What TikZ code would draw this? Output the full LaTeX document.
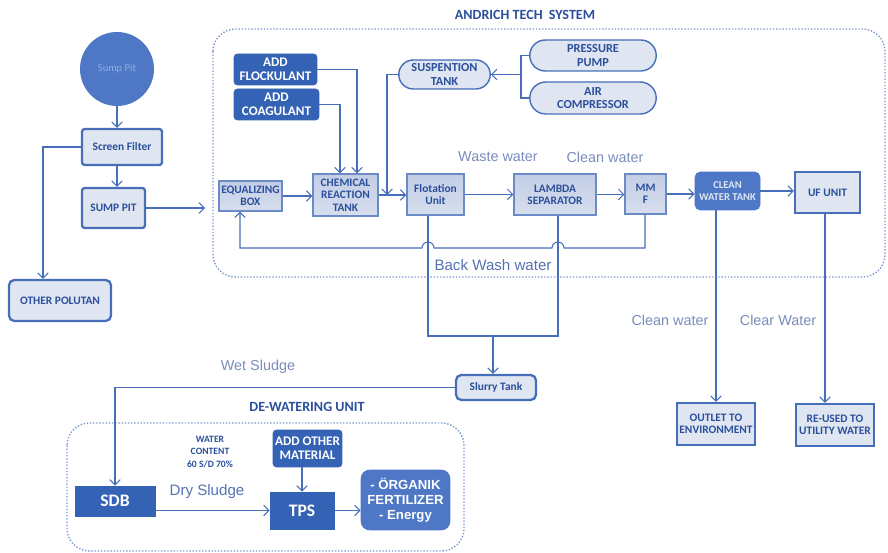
\documentclass[tikz,border=0pt]{standalone}
\usepackage{fontspec}
\setmainfont{Liberation Sans}
\newfontfamily\boxfont{Carlito}
\usetikzlibrary{shapes.misc,arrows.meta}

\definecolor{bord}{HTML}{466EB9}
\definecolor{darkfill}{HTML}{3462B4}
\definecolor{midfill}{HTML}{4E78C6}
\definecolor{lightfill}{HTML}{DFE5F1}
\definecolor{unitfill}{HTML}{C3CEE6}
\definecolor{boxtext}{HTML}{2B4F9C}
\definecolor{flowlabel}{HTML}{7A8CBB}

\tikzset{
    flow/.style={draw=bord, line width=0.6pt, -{Straight Barb[length=3pt,width=6pt]}},
    wire/.style={draw=bord, line width=0.6pt},
    lightbox/.style={draw=bord, line width=1.3pt, fill=lightfill, rounded corners=1.5pt, align=center,
        text=boxtext, font=\boxfont\bfseries\fontsize{6.5}{7}\selectfont, inner sep=1pt},
    unitbox/.style={draw=bord!80, line width=0.6pt, top color=unitfill, bottom color=lightfill!70!unitfill,
        align=center, text=boxtext, font=\boxfont\bfseries\fontsize{6.5}{7}\selectfont, inner sep=1pt},
    darkbox/.style={draw=darkfill, fill=darkfill, rounded corners=2pt, align=center, text=white,
        font=\boxfont\bfseries\fontsize{7.5}{8}\selectfont, inner sep=1pt},
    pillbox/.style={rounded rectangle, draw=bord, line width=0.8pt, fill=lightfill, align=center,
        text=boxtext, font=\boxfont\bfseries\fontsize{7}{7.5}\selectfont, inner sep=1pt},
    flowtext/.style={text=flowlabel, font=\fontsize{8.2}{9}\selectfont},
    areatitle/.style={text=boxtext, font=\boxfont\bfseries\fontsize{8}{9}\selectfont},
    area/.style={draw=bord!70, densely dotted, line width=0.8pt, rounded corners=0.45cm}
}

\begin{document}
\begin{tikzpicture}[x=0.02cm, y=-0.02cm]
\useasboundingbox (0,0) rectangle (888,553);

% incoming side
\node[circle, fill=midfill, minimum size=1.48cm, text=midfill!60!white, font=\boxfont\fontsize{6}{7}\selectfont] (pit) at (117,69) {Sump Pit};
\node[lightbox, minimum width=1.6cm, minimum height=0.72cm] (screen) at (122,147) {Screen Filter};
\node[lightbox, minimum width=1.26cm, minimum height=0.8cm] (sumppit) at (113.5,208) {SUMP PIT};
\node[lightbox, rounded corners=3pt, minimum width=2.04cm, minimum height=0.82cm] (other) at (60,300.5) {OTHER POLUTAN};

% andrich tech system
\draw[area] (213,29) rectangle (885,277);
\node[areatitle] (systitle) at (525,15) {ANDRICH TECH\ \ SYSTEM};
\node[darkbox, minimum width=1.66cm, minimum height=0.62cm] (flock) at (275.5,69.5) {ADD\\FLOCKULANT};
\node[darkbox, minimum width=1.7cm, minimum height=0.62cm] (coag) at (276.5,104.5) {ADD\\COAGULANT};
\node[pillbox, minimum width=1.9cm, minimum height=0.58cm] (susp) at (444.5,74.5) {SUSPENTION\\TANK};
\node[pillbox, minimum width=2.6cm, minimum height=0.62cm] (pump) at (593,55.5) {PRESSURE\\PUMP};
\node[pillbox, minimum width=2.6cm, minimum height=0.64cm] (air) at (593,98) {AIR\\COMPRESSOR};

\node[unitbox, minimum width=1.26cm, minimum height=0.6cm] (equal) at (250.5,196) {EQUALIZING\\BOX};
\node[unitbox, minimum width=1.3cm, minimum height=0.84cm] (chem) at (345.5,195) {CHEMICAL\\REACTION\\TANK};
\node[unitbox, minimum width=1.14cm, minimum height=0.82cm] (flot) at (435.5,194.5) {Flotation\\Unit};
\node[unitbox, minimum width=1.64cm, minimum height=0.82cm] (lambda) at (555,194.5) {LAMBDA\\SEPARATOR};
\node[unitbox, minimum width=0.82cm, minimum height=0.8cm] (mmf) at (645.5,194) {MM\\F};
\node[darkbox, fill=midfill, draw=midfill, rounded corners=3pt, text=lightfill, font=\boxfont\bfseries\fontsize{6}{7}\selectfont,
    minimum width=1.3cm, minimum height=0.76cm] (cwt) at (727.5,191) {CLEAN\\WATER TANK};
\node[lightbox, rounded corners=0pt, minimum width=1.3cm, minimum height=0.82cm] (uf) at (827.5,192.5) {UF UNIT};

\node[flowtext] (wastelbl) at (498,157) {Waste water};
\node[flowtext] (cleanlbl) at (605,157) {Clean water};
\node[flowtext, font=\fontsize{8.6}{10}\selectfont, text=boxtext!80!white] (washlbl) at (493,265) {Back Wash water};

% outside the system
\node[lightbox, rounded corners=3pt, minimum width=1.6cm, minimum height=0.5cm] (slurry) at (496,387.5) {Slurry Tank};
\node[lightbox, rounded corners=0pt, minimum width=1.56cm, minimum height=0.84cm] (outlet) at (716,424) {OUTLET TO\\ENVIRONMENT};
\node[lightbox, rounded corners=0pt, minimum width=1.56cm, minimum height=0.84cm] (reused) at (835,425) {RE-USED TO\\UTILITY WATER};
\node[flowtext] (outlbl) at (670,320) {Clean water};
\node[flowtext] (uselbl) at (778,320) {Clear Water};
\node[flowtext] (wetlbl) at (258,367) {Wet Sludge};

% de-watering unit
\draw[area] (67,423) rectangle (464,551);
\node[areatitle] (dewtitle) at (307,407) {DE-WATERING UNIT};
\node[darkbox, rounded corners=0pt, font=\boxfont\bfseries\fontsize{10}{11}\selectfont, minimum width=1.6cm, minimum height=0.6cm] (sdb) at (115,501) {SDB};
\node[darkbox, minimum width=1.38cm, minimum height=0.74cm] (addother) at (307.5,448.5) {ADD OTHER\\MATERIAL};
\node[darkbox, rounded corners=0pt, font=\boxfont\bfseries\fontsize{10}{11}\selectfont, minimum width=1.28cm, minimum height=0.74cm] (tps) at (302,510.5) {TPS};
\node[darkbox, fill=midfill, draw=midfill, rounded corners=5pt, font=\bfseries\fontsize{7.5}{8.5}\selectfont,
    minimum width=1.78cm, minimum height=1.2cm] (organik) at (405.5,500) {- ÖRGANIK\\FERTILIZER\\- Energy};
\node[align=center, text=boxtext, font=\boxfont\bfseries\fontsize{5.5}{7}\selectfont] (content) at (210,452) {WATER\\CONTENT\\60 S/D 70\%};
\node[flowtext, font=\fontsize{8.6}{10}\selectfont, text=boxtext!80!white] (drylbl) at (207,492) {Dry Sludge};

% connectors
\coordinate (sfl) at (43,0);
\coordinate (sysin) at (205,208);
\coordinate (fk) at (357,0);
\coordinate (cg) at (340,0);
\coordinate (sp) at (387,0);
\coordinate (jn) at (521,74.5);
\coordinate (bwr) at (645,248);
\coordinate (bwl) at (240,248);
\coordinate (fl) at (428,336);
\coordinate (lm) at (558,336);
\coordinate (sl) at (493,336);
\coordinate (ufl) at (825,0);

\draw[flow] (pit.south) -- (pit.south |- screen.north);
\draw[flow] (pit.south |- screen.south) -- (pit.south |- sumppit.north);
\draw[flow] (screen.west) -- (screen.west -| sfl) -- (sfl |- other.north);
\draw[flow] (sumppit.east) -- (sysin);

\draw[flow] (flock.east) -| (fk |- chem.north);
\draw[flow] (coag.east) -| (cg |- chem.north);
\draw[wire] (pump.west) -- (pump.west -| jn) -- (air.west -| jn) -- (air.west);
\draw[flow] (jn) -- (susp.east);
\draw[flow] (susp.west) -| (sp |- chem.east);

\draw[flow] (equal.east) -- (equal.east -| chem.west);
\draw[flow] (chem.east) -- (chem.east -| flot.west);
\draw[flow] (flot.east) -- (flot.east -| lambda.west);
\draw[flow] (lambda.east) -- (lambda.east -| mmf.west);
\draw[flow] (mmf.east) -- (mmf.east -| cwt.west);
\draw[flow] (cwt.east) -- (cwt.east -| uf.west);

% back wash line with hops
\draw[flow] (bwr |- mmf.south) -- (bwr) -- (564,248) arc[start angle=0, end angle=180, radius=0.12cm]
    -- (434,248) arc[start angle=0, end angle=180, radius=0.12cm] -- (bwl) -- (bwl |- equal.south);

\draw[wire] (fl |- flot.south) -- (fl) -- (lm) -- (lm |- lambda.south);
\draw[flow] (sl) -- (sl |- slurry.north);
\draw[flow] (slurry.west) -| (sdb.north);

\draw[flow] (cwt.south -| outlet.north) -- (outlet.north);
\draw[flow] (ufl |- uf.south) -- (ufl |- reused.north);

\draw[flow] (tps.north |- addother.south) -- (tps.north);
\draw[flow] (sdb.east |- tps.west) -- (tps.west);
\draw[flow] (tps.east) -- (tps.east -| organik.west);
\end{tikzpicture}
\end{document}
